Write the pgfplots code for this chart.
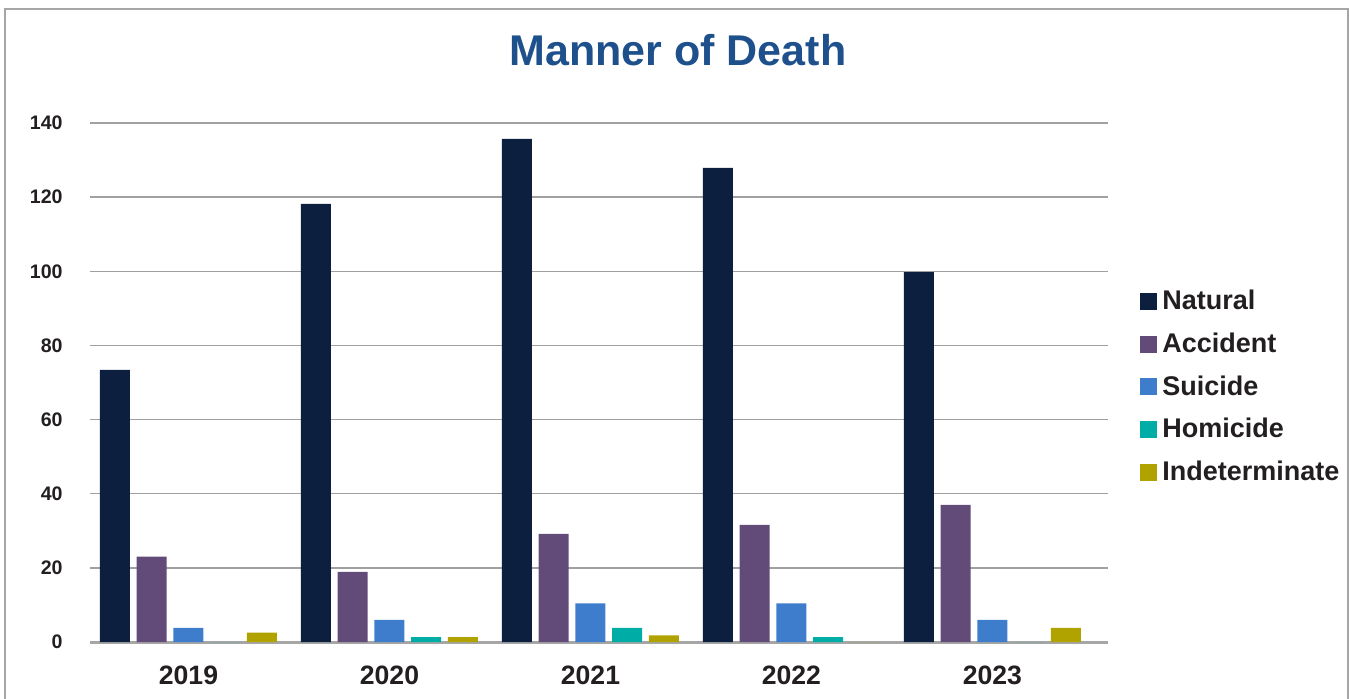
\documentclass[border=0pt]{standalone}
\usepackage{pgfplots}
\pgfplotsset{compat=1.18}
\usepackage{fontspec}
\setmainfont{Liberation Sans}
\definecolor{cNat}{RGB}{12,31,63}
\definecolor{cAcc}{RGB}{99,75,121}
\definecolor{cSui}{RGB}{61,125,204}
\definecolor{cHom}{RGB}{0,173,166}
\definecolor{cInd}{RGB}{176,163,0}
\definecolor{titleblue}{RGB}{30,80,140}
\definecolor{textc}{RGB}{35,31,32}
\definecolor{gridgray}{RGB}{160,160,160}
\definecolor{framegray}{RGB}{166,166,166}
\begin{document}
\begin{tikzpicture}
\path[use as bounding box] (0,0) rectangle (674.5pt,349pt);
\draw[color=framegray, line width=1pt] (2.5pt,-20pt) -- (2.5pt,344.5pt) -- (673.8pt,344.5pt) -- (673.8pt,-20pt);
\node[font=\bfseries\fontsize{21.5}{24}\selectfont, text=titleblue] at (339pt,324pt) {Manner of Death};
\begin{axis}[
  at={(45pt,28pt)}, anchor=south west,
  scale only axis, width=509pt, height=259.5pt,
  xmin=-0.49, xmax=4.575, ymin=0, ymax=140,
  ybar=3.375pt, bar width=15pt,
  axis x line=bottom, axis y line=left,
  x axis line style={-, draw=framegray, line width=1.5pt},
  y axis line style={draw=none},
  ymajorgrids, grid style={draw=gridgray, line width=0.75pt},
  ytick={0,20,...,140},
  xtick={0,1,2,3,4}, xticklabels={2019,2020,2021,2022,2023},
  major tick length=0pt, tick style={draw=none},
  /pgf/number format/assume math mode=true,
  yticklabel style={font=\bfseries\fontsize{9.8}{10}\selectfont, inner sep=0pt, anchor=east, xshift=-13.5pt, text=textc},
  xticklabel style={font=\bfseries\fontsize{13.3}{15}\selectfont, inner sep=0pt, anchor=north, yshift=-12pt, text=textc},
  legend image code/.code={\fill[#1,draw=none] (0pt,-4.25pt) rectangle (8.5pt,4.25pt);},
  legend cell align=left,
  legend style={at={(axis description cs:1.0314,0.679)}, anchor=north west, draw=none, fill=none, inner sep=0pt,
    font=\bfseries\fontsize{13.5}{14}\selectfont, text=textc, row sep=10.1pt, column sep=2.5pt,
    nodes={inner sep=0pt}},
]
\addplot[fill=cNat, draw=none] coordinates {(0,73.4) (1,118.2) (2,135.7) (3,127.9) (4,99.8)};
\addplot[fill=cAcc, draw=none] coordinates {(0,23) (1,18.9) (2,29.2) (3,31.6) (4,37)};
\addplot[fill=cSui, draw=none] coordinates {(0,3.8) (1,6) (2,10.4) (3,10.4) (4,6)};
\addplot[fill=cHom, draw=none] coordinates {(0,0) (1,1.3) (2,3.8) (3,1.3) (4,0)};
\addplot[fill=cInd, draw=none] coordinates {(0,2.5) (1,1.3) (2,1.8) (3,0) (4,3.8)};
\legend{Natural,Accident,Suicide,Homicide,Indeterminate}
\end{axis}
\end{tikzpicture}
\end{document}
